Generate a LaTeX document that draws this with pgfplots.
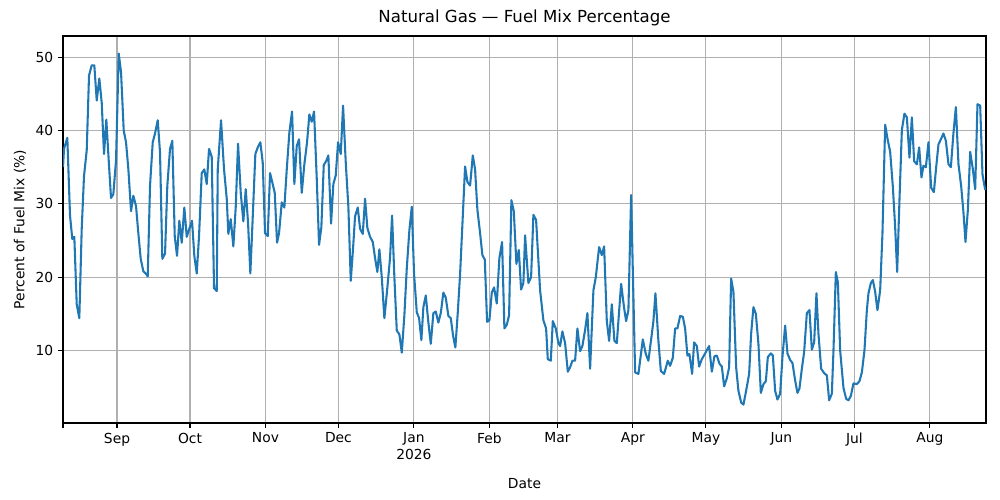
\documentclass[border=0pt]{standalone}
\usepackage{pgfplots}
\pgfplotsset{compat=1.18}
\usepackage{pgfplotstable}
\usepackage{fontspec}
\setmainfont{DejaVu Sans}
\definecolor{mplblue}{HTML}{1F77B4}
% columns: px = horizontal position, val = percent
\pgfplotstableread{
px val
63 35
64 37.5
67.3 39
70 28.4
72.3 25.2
74.3 25.5
76.7 16.3
79.3 14.4
81.7 26.6
84 33.8
86.7 37.3
89 47.5
91.7 48.9
94.3 48.9
96.7 44.1
99.3 47.1
101.7 43.8
104 36.8
106.3 41.5
108.7 35.9
111 30.8
113.3 31.3
116 35.9
118.7 50.5
121 48
123.7 40
126 38.4
128.3 34.8
131 29
133.3 31.1
136 29.7
138.3 26
140.7 22.5
143.3 20.8
145.7 20.5
147.7 20.1
150 32.5
152.7 38.4
155 39.6
157.7 41.4
160 37
162.3 22.5
165 23.2
167.3 32.5
170 37.5
172.3 38.6
174.7 25.6
177 22.9
179.3 27.7
181.7 24.7
184.3 29.5
186.7 25.5
189.3 26.6
192 27.7
194.3 22.9
196.7 20.5
199 25.6
201.7 34.2
204.3 34.7
206.7 32.7
209 37.5
211.7 36.4
214 18.5
216.7 18.1
217.7 34.7
221 41.4
224 34.7
226.7 30.7
228.3 25.9
230.7 27.9
233.3 24.2
235.7 29.6
238 38.2
240.7 31.5
243.3 27.6
245.7 32
248 27.4
250.3 20.5
253 29.2
255.3 36.8
257.7 37.7
260.3 38.4
262.7 35.6
265 26
267.7 25.6
270 34.2
272.3 32.9
274.7 31.5
277 24.7
279 26
281.7 30.2
284.3 29.5
286.7 34.7
289.3 39.7
292 42.6
294.3 32.7
296.7 37.9
299 38.8
301.7 31.5
304.3 35.4
307 38.4
309.3 42.2
311.7 41.2
314 42.6
316.7 33.4
319 24.4
321.3 26.8
323.7 35.3
326 35.8
328.3 36.6
331 27.3
333.3 32.7
335.7 33.9
338 38.4
340.7 36.8
343 43.4
345.7 35.6
348.3 29.6
350.7 19.5
353 24
355 28.3
357.7 29.5
360 26.6
362.7 25.9
365 30.7
367.3 26.7
370 25.5
372.7 24.8
375 22.6
377.3 20.7
379.3 23.8
381.7 20
384.3 14.4
387.3 18.6
390 22.7
392 28.4
394.3 20
396.7 12.7
399.3 12.2
401.7 9.7
404.3 14.8
406.7 21.2
409.3 26.4
411.7 29.6
414 20.4
416.7 15.2
419 14.4
421.3 11.4
423.3 15.9
425.7 17.5
428 14.2
430.7 10.9
433.3 15.1
435.7 15.3
438.3 13.8
440.7 15.1
443.3 17.9
445.7 17.2
448.3 14.7
450.7 14.4
453 12
455.3 10.4
457.7 15.2
460 20.4
462.7 28.3
465 35.1
467.3 33
470 32.5
472.7 36.6
475 34.7
477.3 29.2
480 26
482.3 23
484.7 22.4
487 13.9
489.3 14.1
491.7 17.9
494 18.6
496.7 16.4
499.3 22.6
502 24.8
504.3 13
506.7 13.5
509 14.8
511.3 30.5
513.7 29
516.3 21.8
518.7 23.7
521 18.3
523.3 19.2
525 25.7
528.3 19.2
531 20
533.3 28.5
536 27.8
540 18.2
543.3 14.1
546 13
547.7 8.8
550.7 8.6
552.7 14
555.7 13
558.3 11
560 10.6
562.3 12.6
565 11
567.7 7.1
570 7.7
572.3 8.6
575 8.6
577.3 13
580 9.9
582.3 10.6
585 12.8
587.3 15.1
590 7.5
593.3 18.2
595.7 20
599 24.1
601.7 23
604 24.2
606.7 14
609 11.3
611.7 16.3
614.3 11.3
616.7 11
621 19.1
624 15.8
626 14
628.3 15.5
631 31.2
635 7
638.3 6.8
642.7 11.5
645.7 9.5
648.3 8.6
651 11.5
653.3 14
655.3 17.8
658.3 11.3
660.7 7.2
664 6.8
667.7 8.6
670 7.9
672.7 9
675 13
677.3 13
680 14.7
682.7 14.6
685 13
687.3 9.3
689.3 9.5
692 6.8
694 11.1
696.7 10.6
699 7.8
701.7 8.8
705 9.6
709 10.6
711.7 7.1
714.3 9.2
716.7 9.3
719.3 8.2
721.7 7.8
724 5.1
726.7 6.2
729 7.7
731 19.8
733.3 18
736 7.7
738.3 4.5
741 2.9
743.3 2.6
746 4.5
749 6.8
751 12.3
753.3 15.9
755.7 15
758.3 10.9
760.7 4.2
763.3 5.4
765.7 5.8
767.7 9.1
770.7 9.6
772.7 9.3
775 4.5
777.3 3.3
780 4.1
782.3 9.1
785 13.4
787.3 9.6
790 8.7
792.3 8.3
795 5.9
797.3 4.2
799.3 4.8
801.7 7.5
804 9.8
806.7 15.1
809.3 15.5
811.7 10.1
814 11.1
816.3 17.8
818.3 12.3
821 7.5
824 6.9
826.7 6.6
829 3.2
831.7 4.1
833.3 9.9
835.7 20.7
837.7 19.3
840 10
843.3 4.9
846 3.4
848.3 3.2
850.7 3.8
853.3 5.5
856.7 5.4
859.3 5.8
861.7 7
864.3 10
866.7 15.5
868.3 17.8
870.7 19.2
872.7 19.6
875 18
877.3 15.5
880 18.2
882.3 26
885 40.8
887.3 38.9
890 37.1
892.7 32.3
895 26.8
897 20.7
899.3 30.5
901.7 40.1
904.3 42.3
906.7 41.8
909.3 36.3
911.7 41.8
914 35.8
916.7 35.4
919 37.7
921.3 33.6
923.3 35.2
925.7 35
928.3 38.4
931 32.2
933.7 31.6
936 35
938.3 38.1
941 38.9
943.3 39.6
945.7 38.6
948.3 35.4
950.7 35
953.3 39.7
955.7 43.2
958.3 35.4
961 32.4
963.3 28.8
965.3 24.8
967.7 29.2
970 37.1
972.7 34.7
975 32
977.3 43.6
980 43.4
982.3 34
985 31.9
}\gasdata
\begin{document}
\begin{tikzpicture}[x=1in,y=1in]
\path (0,0) rectangle (10,5);
\begin{axis}[
  at={(0.63in,0.77in)}, anchor=south west,
  scale only axis, width=9.23in, height=3.87in,
  xmin=-22.2, xmax=357.1, ymin=0.1, ymax=52.9,
  xtick={0,30,61,91,122,153,181,212,242,273,303,334},
  xticklabels={Sep,Oct,Nov,Dec,{Jan\\2026},Feb,Mar,Apr,May,Jun,Jul,Aug},
  xticklabel style={align=center},
  extra x ticks={-22.2}, extra x tick labels={}, extra x tick style={grid=none},
  ytick={10,20,30,40,50},
  grid=major, major grid style={color=black!31, line width=0.8pt},
  tick style={black, line width=0.8pt}, major tick length=3.5pt,
  tick align=outside, xtick pos=bottom, ytick pos=left,
  axis line style={line width=0.8pt},
  ticklabel style={font=\fontsize{10}{12}\selectfont},
  /pgf/number format/assume math mode=true,
  title={Natural Gas — Fuel Mix Percentage},
  title style={font=\fontsize{12}{14}\selectfont, yshift=-2pt},
  xlabel={Date}, ylabel={Percent of Fuel Mix (\%)},
  label style={font=\fontsize{10}{12}\selectfont},
]
\addplot[mplblue, line width=1.5pt, line join=round] table[x expr={(\thisrow{px}-117)/2.433}, y=val] {\gasdata};
\end{axis}
\end{tikzpicture}
\end{document}
